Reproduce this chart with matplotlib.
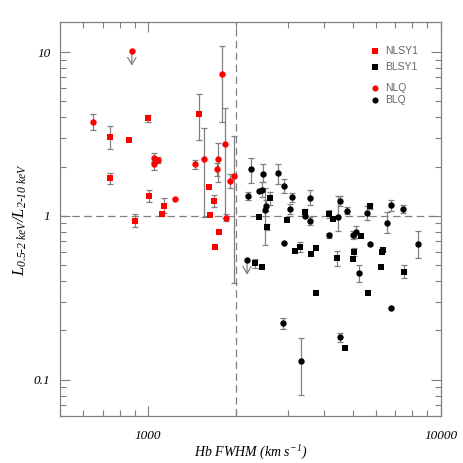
import matplotlib
matplotlib.use("Agg")
import matplotlib.pyplot as plt
import numpy as np

plt.rcParams['mathtext.fontset'] = 'custom'
plt.rcParams['mathtext.it'] = 'Liberation Serif:italic'
plt.rcParams['mathtext.rm'] = 'Liberation Serif:italic'
plt.rcParams['mathtext.default'] = 'it'

# ---- data: FWHM (km/s), ratio, lower bound, upper bound ----
nlsy1_x = [741, 741, 861, 1000, 1008, 1134, 1116, 901, 1492, 1613, 1674, 1622, 1754, 1691]
nlsy1_y = [3.04, 1.70, 2.89, 3.94, 1.32, 1.15, 1.03, 0.936, 4.2, 1.50, 1.23, 1.01, 0.80, 0.644]
nlsy1_lo = [2.56, 1.56, 2.89, 3.73, 1.22, 1.04, 1.00, 0.85, 2.9, 1.50, 1.13, 1.01, 0.80, 0.644]
nlsy1_hi = [3.52, 1.82, 2.89, 4.15, 1.43, 1.28, 1.06, 1.02, 5.52, 1.50, 1.34, 1.01, 0.80, 0.644]

nlq_x = [650, 1048, 1085, 1048, 1236, 1445, 1551, 1782, 1828, 1731, 1714, 1902, 1968, 1853]
nlq_y = [3.76, 2.27, 2.19, 2.06, 1.27, 2.06, 2.24, 7.31, 2.76, 2.22, 1.93, 1.64, 1.74, 0.97]
nlq_lo = [3.33, 2.12, 2.10, 1.90, 1.27, 1.93, 0.98, 3.74, 0.97, 1.60, 1.75, 1.47, 0.39, 0.93]
nlq_hi = [4.17, 2.41, 2.30, 2.17, 1.27, 2.19, 3.45, 10.9, 4.54, 2.80, 2.11, 1.81, 3.07, 1.02]

nlq_lim_x = [880]
nlq_lim_y = [10.2]

blsy1_x = [2611, 2543, 2388, 2321, 2459, 2983, 3184, 3311, 3443, 3609, 3745, 3763, 4167,
           4277, 4424, 4721, 5330, 5055, 5003, 5627, 5745, 6233, 6333, 6298, 7522]
blsy1_y = [1.29, 0.853, 0.986, 0.515, 0.489, 0.945, 0.612, 0.647, 1.06, 0.584, 0.641, 0.338, 1.03,
           0.963, 0.555, 0.157, 0.755, 0.598, 0.542, 0.338, 1.15, 0.489, 0.618, 0.60, 0.457]
blsy1_lo = [1.16, 0.818, 0.986, 0.484, 0.489, 0.945, 0.612, 0.606, 1.00, 0.584, 0.641, 0.338, 0.97,
            0.963, 0.496, 0.157, 0.755, 0.570, 0.542, 0.338, 1.10, 0.489, 0.618, 0.60, 0.417]
blsy1_hi = [1.39, 0.89, 0.986, 0.545, 0.489, 0.945, 0.612, 0.688, 1.10, 0.584, 0.641, 0.338, 1.08,
            0.963, 0.612, 0.157, 0.755, 0.641, 0.542, 0.338, 1.17, 0.489, 0.618, 0.60, 0.503]

blq_x = [2255, 2191, 2465, 2400, 2444, 2530, 2502, 2771, 2904, 3110, 3045, 2913, 2883, 3337,
         3433, 3571, 3580, 4147, 4458, 4515, 4530, 4795, 5003, 5150, 5273, 5612, 5734, 6563,
         6743, 6759, 7424, 8353]
blq_y = [1.93, 1.32, 1.81, 1.41, 1.44, 1.15, 1.08, 1.82, 1.53, 1.31, 1.10, 0.684, 0.222, 0.130,
         0.996, 1.29, 0.936, 0.759, 0.98, 1.24, 0.182, 1.07, 0.762, 0.80, 0.449, 1.04, 0.672, 0.91,
         0.274, 1.17, 1.10, 0.678]
blq_lo = [1.59, 1.25, 1.60, 1.41, 1.30, 1.07, 0.665, 1.56, 1.37, 1.22, 1.02, 0.684, 0.203, 0.0807,
          0.996, 1.16, 0.877, 0.73, 0.81, 1.15, 0.170, 1.02, 0.72, 0.737, 0.392, 0.94, 0.672, 0.784,
          0.274, 1.07, 1.04, 0.552]
blq_hi = [2.25, 1.39, 2.07, 1.41, 1.62, 1.25, 1.49, 2.07, 1.67, 1.37, 1.18, 0.684, 0.238, 0.179,
          0.996, 1.43, 0.986, 0.79, 1.32, 1.32, 0.192, 1.13, 0.81, 0.869, 0.503, 1.15, 0.672, 1.05,
          0.274, 1.25, 1.17, 0.81]

blq_lim_x = [2179]
blq_lim_y = [0.539]

legend_labels = ['NLSY1', 'BLSY1', 'NLQ', 'BLQ']
legend_colors = ['#ff0000', 'black', '#ff0000', 'black']
legend_markers = ['s', 's', 'o', 'o']
legend_ypos = [0.927, 0.887, 0.834, 0.802]

RED = '#ff0000'
GREY = '#808080'

fig = plt.figure(figsize=(4.63, 4.63), dpi=100)
ax = fig.add_axes([0.1296, 0.1015, 0.8222, 0.8503])

def draw(x, y, lo, hi, color, marker, ms):
    x = np.array(x); y = np.array(y); lo = np.array(lo); hi = np.array(hi)
    yerr = np.vstack([y - lo, hi - y])
    has = (yerr.sum(axis=0) > 0)
    if has.any():
        ax.errorbar(x[has], y[has], yerr=yerr[:, has], fmt='none', ecolor=GREY,
                    elinewidth=0.9, capsize=2.3, capthick=0.9, zorder=2)
    ax.plot(x, y, linestyle='none', marker=marker, color=color, markersize=ms,
            markeredgewidth=0, zorder=3)

# reference lines
ax.axhline(1.0, color=GREY, lw=0.9, ls=(0, (6, 3.5)), zorder=1)
ax.axvline(2000, color=GREY, lw=0.9, ls=(0, (6, 3.5)), zorder=1)

draw(nlsy1_x, nlsy1_y, nlsy1_lo, nlsy1_hi, RED, 's', 4.4)
draw(nlq_x, nlq_y, nlq_lo, nlq_hi, RED, 'o', 4.6)
draw(blsy1_x, blsy1_y, blsy1_lo, blsy1_hi, 'black', 's', 4.4)
draw(blq_x, blq_y, blq_lo, blq_hi, 'black', 'o', 4.6)

# upper limits
for xs, ys, c in [(nlq_lim_x, nlq_lim_y, RED), (blq_lim_x, blq_lim_y, 'black')]:
    for xv, yv in zip(xs, ys):
        ax.annotate('', xy=(xv, yv * 0.78), xytext=(xv, yv),
                    arrowprops=dict(arrowstyle='->,head_length=0.5,head_width=0.3',
                                    color=GREY, lw=0.9), zorder=2)
    ax.plot(xs, ys, linestyle='none', marker='o', color=c, markersize=4.6,
            markeredgewidth=0, zorder=3)

ax.set_xscale('log')
ax.set_yscale('log')
ax.set_xlim(500, 10000)
ax.set_ylim(0.06, 15.2)

for s in ax.spines.values():
    s.set_color(GREY)
    s.set_linewidth(0.9)
ax.tick_params(which='both', direction='in', top=True, right=True, color=GREY)
ax.tick_params(which='major', length=7, width=0.8)
ax.tick_params(which='minor', length=4, width=0.8)

ax.set_xticks([1000, 10000])
ax.set_xticklabels(['1000', '10000'])
ax.set_yticks([0.1, 1, 10])
ax.set_yticklabels(['0.1', '1', '10'])
for lab in ax.get_xticklabels() + ax.get_yticklabels():
    lab.set_fontfamily('Liberation Serif')
    lab.set_fontstyle('italic')
    lab.set_fontsize(9.5)
ax.tick_params(axis='x', pad=10)
ax.tick_params(axis='y', pad=7)

ax.set_xlabel(r'Hb FWHM (km s$^{-1}$)', fontfamily='Liberation Serif', fontstyle='italic',
              fontsize=10, labelpad=1)
ax.set_ylabel(r'$L_{0.5\text{-}2\ keV}/L_{2\text{-}10\ keV}$', fontsize=12, labelpad=3)

# legend
for lab, c, m, yp in zip(legend_labels, legend_colors, legend_markers, legend_ypos):
    ax.plot([0.827], [yp], transform=ax.transAxes, marker=m, color=c, markersize=4.4,
            markeredgewidth=0, linestyle='none', clip_on=False)
    ax.text(0.855, yp, lab, transform=ax.transAxes, va='center', ha='left',
            fontfamily='Liberation Sans', fontsize=7.5, color='#666666')

fig.savefig('out.png', dpi=100)
